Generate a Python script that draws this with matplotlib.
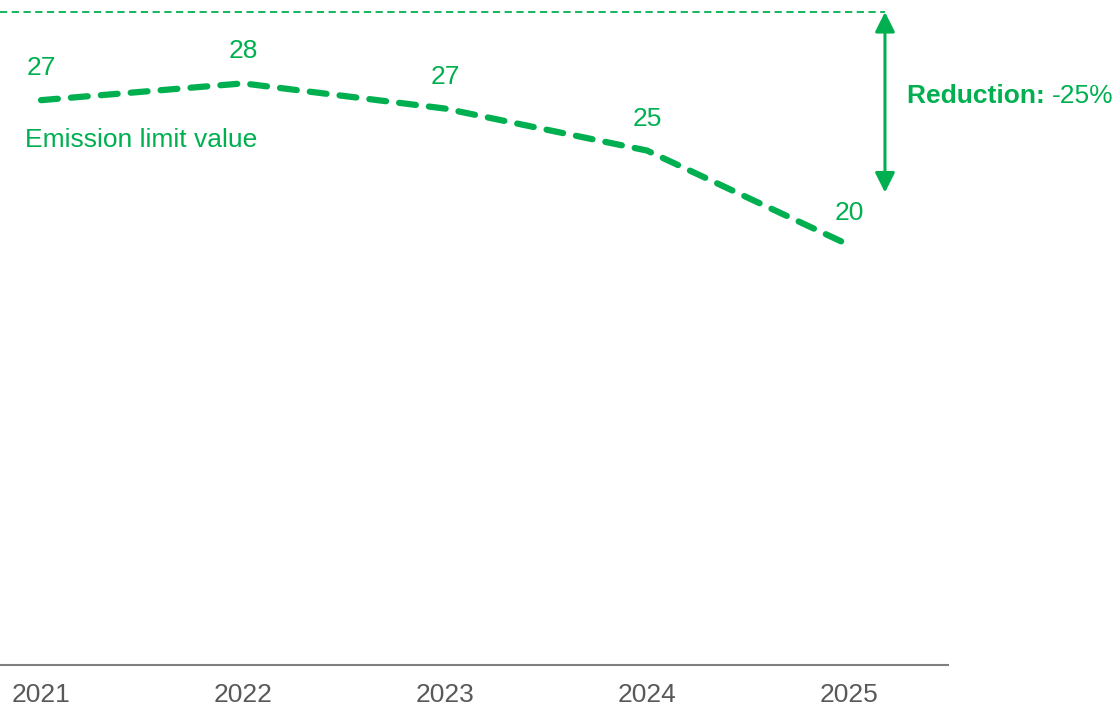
import matplotlib
matplotlib.use("Agg")
from matplotlib import pyplot as plt

plt.rcParams['font.family'] = ['Liberation Sans', 'DejaVu Sans']

# Chart data
years = [2021, 2022, 2023, 2024, 2025]
limit_values = [26.9, 27.7, 26.5, 24.5, 20.0]
value_labels = ['27', '28', '27', '25', '20']
baseline = 31.1          # top reference level (dashed line)
reduction_low = 22.5     # lower end of the reduction arrow
series_name = 'Emission limit value'
reduction_text = '-25%'

green = '#00B050'
grey = '#7F7F7F'
fs = 19

fig = plt.figure(figsize=(11.17, 7.10), dpi=100)
ax = fig.add_axes([0, 0.0634, 0.8487, 0.9366])

# Main dashed line
ax.plot(years, limit_values, color=green, lw=4.5, dashes=(2.7, 2.1),
        dash_capstyle='round', solid_capstyle='round')

# Value labels above points
for x, y, lab in zip(years, limit_values, value_labels):
    ax.annotate(lab, (x, y), xytext=(0, 23), textcoords='offset points',
                ha='center', va='center', color=green, fontsize=fs)

ax.text(2020.92, 25.0, series_name, color=green, fontsize=fs,
        ha='left', va='center')

# Reference line and reduction arrow
arrow_x = 2025.178
ax.plot([2020.797, arrow_x], [baseline, baseline], color=green, lw=1.3,
        dashes=(4, 2.5))
ax.annotate('', xy=(arrow_x, reduction_low), xytext=(arrow_x, baseline),
            arrowprops=dict(arrowstyle='<|-|>', color=green, lw=2.2,
                            mutation_scale=30, shrinkA=0, shrinkB=0))

t = ax.text(0.9568, 0.855, 'Reduction: ', transform=ax.transAxes, color=green,
            fontsize=fs, fontweight='bold', ha='left', va='center')
ax.annotate(reduction_text, xycoords=t, xy=(1, 0.5), va='center', ha='left',
            color=green, fontsize=fs)

ax.set_xlim(2020.797, 2025.49)
ax.set_ylim(0, 31.67)
ax.set_xticks(years)
ax.set_xticklabels([str(y) for y in years], fontsize=fs, color='#595959')
ax.tick_params(axis='x', length=0, pad=13)
ax.set_yticks([])
for s in ['top', 'right', 'left']:
    ax.spines[s].set_visible(False)
ax.spines['bottom'].set_color(grey)
ax.spines['bottom'].set_linewidth(1.5)

fig.savefig('out.png', dpi=100)
